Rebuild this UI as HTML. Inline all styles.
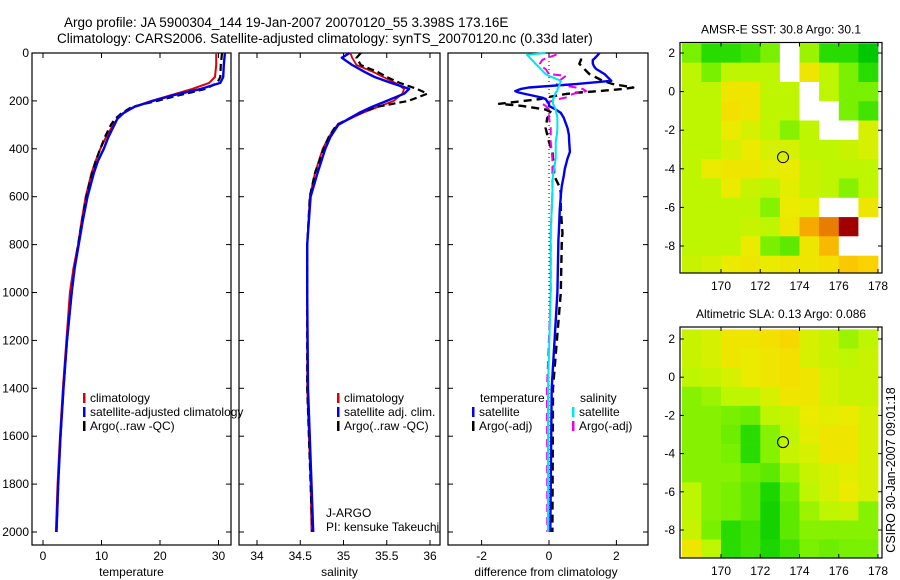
<!DOCTYPE html>
<html><head><meta charset="utf-8">
<style>
html,body{margin:0;padding:0;background:#fff;}
svg{display:block;font-family:"Liberation Sans",sans-serif;}
</style></head>
<body>
<svg id="fig" width="900" height="580" viewBox="0 0 900 580" xmlns="http://www.w3.org/2000/svg">
<text x="64" y="27" font-size="13.5">Argo profile: JA 5900304_144 19-Jan-2007 20070120_55 3.398S 173.16E</text>
<text x="57" y="43" font-size="13.5">Climatology: CARS2006. Satellite-adjusted climatology: synTS_20070120.nc (0.33d later)</text>
<g id="g"></g>
<text transform="translate(895,470) rotate(-90)" text-anchor="middle" font-size="12.5">CSIRO 30-Jan-2007 09:01:18</text>
</svg>
<script>
// ---- profile data ----
const depthTemp = [0,50,100,125,150,175,200,225,250,275,300,350,400,450,500,600,700,800,900,1000,1200,1400,1600,1800,2000];
const tempClim  = [29.6,29.6,29.4,28.4,25.5,22,18.5,15.5,13.8,12.7,12,10.8,9.8,9,8.3,7.3,6.6,6.0,5.2,4.6,4.0,3.4,2.9,2.5,2.2];
const tempSat   = [31.1,30.9,30.8,30.3,27,22.5,18.8,15.6,13.8,12.7,12.2,11.2,10.4,9.4,8.7,7.6,6.8,6.1,5.4,4.9,4.1,3.5,3.0,2.6,2.3];
const tempArgo  = [30.6,30.4,30.3,29.8,27.8,23.5,19.5,15.2,13.5,12.3,11.6,10.6,9.8,9.0,8.4,7.4,6.7,6.0,5.4,4.9,4.1,3.5,3.0,2.6,2.3];
const depthSal  = [0,20,50,80,100,125,150,170,200,225,250,300,350,400,500,600,800,1000,1400,1800,2000];
const salClim   = [35.08,35.1,35.15,35.35,35.46,35.6,35.7,35.68,35.58,35.4,35.22,34.93,34.83,34.76,34.67,34.61,34.58,34.58,34.58,34.62,34.63];
const salSat    = [35.07,34.98,35.1,35.25,35.36,35.55,35.76,35.7,35.5,35.33,35.18,34.94,34.85,34.79,34.7,34.62,34.58,34.58,34.59,34.63,34.65];
const salArgo   = [35.2,35.15,35.2,35.4,35.5,35.65,35.85,35.97,35.75,35.38,35.2,34.92,34.83,34.77,34.67,34.61,34.58,34.58,34.58,34.62,34.64];
const depthDiff = [0,8,23,29,45,59,67,88,95,116,130,144,150,159,165,171,186,192,212,221,236,250,271,313,342,371,413,441,484,512,555,582,653,752,781,1000,1400,2000];
const diffTsat  = [1.5,1.45,1.35,1.3,1.3,1.35,1.4,1.65,1.7,1.85,0.8,-0.6,-0.83,-1.0,-0.9,-0.7,-0.22,-0.1,0.0,0.0,0.2,0.35,0.44,0.55,0.59,0.6,0.62,0.55,0.47,0.44,0.38,0.36,0.32,0.29,0.28,0.25,0.08,0.04];
const diffTargo = [null,null,0.95,0.95,0.9,1.0,1.05,1.2,1.3,1.6,1.9,2.5,2.2,1.5,0.9,0.5,-0.1,-0.25,-1.48,-0.8,-0.1,0.1,-0.05,-0.1,-0.05,0.0,0.1,0.12,0.15,0.15,0.3,0.35,0.35,0.4,0.38,0.35,0.12,0.1];
const diffSsat  = [-0.1,-0.65,-0.55,-0.5,-0.4,-0.3,-0.25,-0.1,0.0,0.35,0.32,0.28,0.25,0.25,0.2,0.18,0.15,0.12,0.12,0.15,0.2,0.22,0.25,0.25,0.23,0.2,0.2,0.2,0.15,0.12,0.1,0.1,0.08,0.05,0.05,0.05,-0.03,-0.03];
const diffSargo = [0.2,0.2,-0.1,-0.2,-0.27,-0.2,-0.1,0.0,0.5,0.3,0.2,0.8,1.0,1.1,0.9,0.7,0.5,0.3,-0.2,-0.1,0.0,0.0,0.0,0.05,0.05,0.05,0.08,0.1,0.1,0.1,0.1,0.1,0.08,0.05,0.05,0.05,-0.06,-0.05];
// ---- axis tick labels ----
const depthTicks = [0,200,400,600,800,1000,1200,1400,1600,1800,2000];
const tempTicks = [0,10,20,30];
const salTicks = [34,34.5,35,35.5,36];
const diffTicks = [-2,0,2];
const lonTicks = [170,172,174,176,178];
const latTicks = [2,0,-2,-4,-6,-8];
// ---- map grids (1-degree cells, lon 168..177 W edge, lat rows from 2.5 down), null = no data ----
const sstGrid = [
 [0.4,0.25,0.25,0.3,0.4,null,0.45,0.25,0.25,0.15],
 [0.5,0.4,0.5,0.5,0.5,null,0.62,0.5,0.4,0.25],
 [0.5,0.5,0.62,0.62,0.5,0.5,null,0.5,0.4,0.4],
 [0.5,0.5,0.65,0.62,0.5,0.5,null,null,0.4,0.3],
 [0.5,0.5,0.6,0.55,0.5,0.42,0.5,null,null,0.55],
 [0.5,0.5,0.55,0.6,0.55,0.55,0.5,0.5,0.52,0.55],
 [0.5,0.6,0.62,0.62,0.58,0.6,0.52,0.5,0.5,0.5],
 [0.5,0.5,0.6,0.52,0.5,0.58,0.52,0.5,0.42,0.5],
 [0.5,0.5,0.5,0.5,0.42,0.6,0.58,null,null,0.62],
 [0.5,0.5,0.5,0.52,0.5,0.62,0.78,0.85,1.0,null],
 [0.5,0.5,0.5,0.6,0.4,0.35,0.62,0.75,null,null],
 [0.52,0.55,0.6,0.62,0.6,0.62,0.62,0.65,0.72,0.7]
];
const slaGrid = [
 [0.52,0.55,0.62,0.62,0.65,0.68,0.55,0.52,0.45,0.5],
 [0.52,0.55,0.62,0.6,0.62,0.65,0.55,0.52,0.5,0.52],
 [0.5,0.52,0.55,0.6,0.62,0.65,0.62,0.55,0.52,0.52],
 [0.42,0.45,0.5,0.5,0.55,0.62,0.62,0.55,0.52,0.52],
 [0.42,0.42,0.4,0.38,0.5,0.52,0.6,0.58,0.6,0.55],
 [0.42,0.42,0.38,0.25,0.42,0.5,0.58,0.62,0.62,0.55],
 [0.42,0.42,0.4,0.25,0.42,0.52,0.55,0.62,0.62,0.55],
 [0.42,0.42,0.42,0.38,0.35,0.45,0.52,0.55,0.58,0.55],
 [0.5,0.42,0.4,0.35,0.22,0.38,0.5,0.55,0.6,0.55],
 [0.5,0.42,0.4,0.35,0.2,0.35,0.45,0.5,0.52,0.42],
 [0.52,0.4,0.25,0.3,0.2,0.35,0.42,0.42,0.42,0.42],
 [0.62,0.5,0.25,0.3,0.22,0.3,0.4,0.38,0.4,0.4]
];

const NS="http://www.w3.org/2000/svg";
const root=document.getElementById('g');
function mk(tag,attrs,parent){const e=document.createElementNS(NS,tag);for(const k in attrs)e.setAttribute(k,attrs[k]);(parent||root).appendChild(e);return e;}
function txt(s,x,y,size,anchor,parent){const t=mk('text',{x:x,y:y,'font-size':size,'text-anchor':anchor||'start'},parent);t.textContent=s;return t;}

const top0=53, bot0=545;
function yDepth(d){return top0+d*0.2395;}
function linScale(v0,p0,v1,p1){return v=>p0+(v-v0)*(p1-p0)/(v1-v0);}
const panels=[
 {name:'temperature',l:32,r:231,x:linScale(0,43,30,218.5),ticks:tempTicks,title:'temperature'},
 {name:'salinity',l:239,r:440,x:linScale(34,257,36,430),ticks:salTicks,title:'salinity'},
 {name:'difference',l:448,r:648,x:linScale(0,549,2,616.4),ticks:diffTicks,title:'difference from climatology'}
];
panels.forEach((p,i)=>{
  const g=mk('g',{});
  
  
  const f=mk('rect',{x:p.l,y:top0,width:p.r-p.l,height:bot0-top0,fill:'none',stroke:'#000','stroke-width':1.2},g);
  
  
  p.ticks.forEach(t=>{
    const X=p.x(t);
    mk('line',{x1:X,x2:X,y1:bot0,y2:bot0-5,stroke:'#000'},g);
    mk('line',{x1:X,x2:X,y1:top0,y2:top0+5,stroke:'#000'},g);
    const lb=txt(String(t),X,560,12,'middle',g);
    
    
  });
  depthTicks.forEach(d=>{
    const Y=yDepth(d);
    mk('line',{x1:p.l,x2:p.l+5,y1:Y,y2:Y,stroke:'#000'},g);
    mk('line',{x1:p.r,x2:p.r-5,y1:Y,y2:Y,stroke:'#000'},g);
    if(i===0){const lb=txt(String(d),p.l-3,Y+4,12,'end',g);
      
      }
  });
  const at=txt(p.title,(p.l+p.r)/2-(i==2?2:0),576,12,'middle',g);
  
  
  p.g=g;
});
function line(p,vals,depths,color,w,dash,name){
  let d='',pen=false;
  vals.forEach((v,k)=>{ if(v===null){pen=false;return;} d+=(pen?'L':'M')+p.x(v).toFixed(1)+','+yDepth(depths[k]).toFixed(1); pen=true;});
  const e=mk('path',{d:d,fill:'none',stroke:color,'stroke-width':w,'stroke-linejoin':'round'},p.g);
  if(dash)e.setAttribute('stroke-dasharray',dash);
  
  
}
const P0=panels[0],P1=panels[1],P2=panels[2];
line(P0,tempClim,depthTemp,'#e00000',2,null,'temp-climatology-line');
line(P0,tempArgo,depthTemp,'#000',2.2,'7,4','temp-argo-line');
line(P0,tempSat,depthTemp,'#0000ee',2.4,null,'temp-satellite-line');
line(P1,salClim,depthSal,'#e00000',1.8,null,'sal-climatology-line');
line(P1,salArgo,depthSal,'#000',2.2,'7,4','sal-argo-line');
line(P1,salSat,depthSal,'#0000ee',2.4,null,'sal-satellite-line');
const zl=mk('line',{x1:P2.x(0),x2:P2.x(0),y1:top0,y2:yDepth(2000),stroke:'#000','stroke-width':1,'stroke-dasharray':'1,3'},P2.g);


line(P2,diffTargo,depthDiff,'#000',2.4,'8,5','diff-temp-argo-line');
line(P2,diffSargo,depthDiff,'#ee00ee',2,'8,5','diff-sal-argo-line');
line(P2,diffTsat,depthDiff,'#0000ee',2.4,null,'diff-temp-satellite-line');
line(P2,diffSsat,depthDiff,'#00e5ee',2,null,'diff-sal-satellite-line');

// legends
function legEntry(g,x,y,color,label,name){
  const m=mk('rect',{x:x,y:y-9,width:2.5,height:10,fill:color},g);
  
  
  const t=txt(label,x+7,y,12,'start',g);
  
  
}
const lg1=mk('g',{});


legEntry(lg1,83,402,'#e00000','climatology','legend-climatology');
legEntry(lg1,83,416,'#0000ee','satellite-adjusted climatology','legend-satellite');
legEntry(lg1,83,430,'#000','Argo(..raw -QC)','legend-argo');
const lg2=mk('g',{});


legEntry(lg2,337,402,'#e00000','climatology','legend-climatology');
legEntry(lg2,337,416,'#0000ee','satellite adj. clim.','legend-satellite');
legEntry(lg2,337,430,'#000','Argo(..raw -QC)','legend-argo');
const lg3=mk('g',{});


txt('temperature',480,402,12,'start',lg3);
txt('salinity',580,402,12,'start',lg3);
legEntry(lg3,472,416,'#0000ee','satellite','legend-temp-satellite');
legEntry(lg3,472,430,'#000','Argo(-adj)','legend-temp-argo');
legEntry(lg3,572,416,'#00e5ee','satellite','legend-sal-satellite');
legEntry(lg3,572,430,'#ee00ee','Argo(-adj)','legend-sal-argo');
const pi=mk('g',{});


txt('J-ARGO',326,517,12,'start',pi);
txt('PI: kensuke Takeuchi',326,531,12,'start',pi);

// maps
const stops=[[0.15,[0,200,0]],[0.25,[40,220,0]],[0.4,[120,240,0]],[0.5,[190,245,0]],[0.6,[235,235,0]],[0.7,[250,210,0]],[0.8,[245,160,0]],[0.9,[220,90,0]],[1.0,[160,0,0]]];
function colorOf(v){
  if(v<=stops[0][0])return 'rgb('+stops[0][1]+')';
  for(let i=1;i<stops.length;i++){ if(v<=stops[i][0]){const a=stops[i-1],b=stops[i],t=(v-a[0])/(b[0]-a[0]);
    return 'rgb('+a[1].map((c,k)=>Math.round(c+(b[1][k]-c)*t)).join(',')+')';}}
  return 'rgb(160,0,0)';
}
function drawMap(cfg){
  const g=mk('g',{});
  
  
  const X=linScale(170,cfg.x170,178,cfg.x178), Y=linScale(2,cfg.y2,-8,cfg.ym8);
  const L=680,R=882;
  const cid='clip-'+cfg.name;
  const cp=mk('clipPath',{id:cid},g);
  mk('rect',{x:L,y:cfg.top,width:R-L,height:cfg.bot-cfg.top},cp);
  const cells=mk('g',{'clip-path':'url(#'+cid+')'},g);
  cfg.grid.forEach((row,r)=>row.forEach((v,c)=>{
    const lon0=168+c, lat0=2.5-r;
    const x0=X(lon0),x1=X(lon0+1.02),y0=Y(lat0),y1=Y(lat0-1.02);
    const e=mk('rect',{x:x0.toFixed(1),y:y0.toFixed(1),width:(x1-x0).toFixed(1),height:(y1-y0).toFixed(1),fill:v===null?'#fff':colorOf(v)},cells);
    
    
  }));
  const c=mk('circle',{cx:X(173.16),cy:Y(-3.398),r:5.5,fill:'none',stroke:'#000','stroke-width':1},g);
  
  
  const fr=mk('rect',{x:L,y:cfg.top,width:R-L,height:cfg.bot-cfg.top,fill:'none',stroke:'#000','stroke-width':1.2},g);
  
  
  lonTicks.forEach(t=>{const x=X(t);
    mk('line',{x1:x,x2:x,y1:cfg.bot,y2:cfg.bot-4,stroke:'#000'},g);
    mk('line',{x1:x,x2:x,y1:cfg.top,y2:cfg.top+4,stroke:'#000'},g);
    const lb=txt(String(t),x,cfg.bot+17,12,'middle',g);
    
    });
  latTicks.forEach(t=>{const y=Y(t);
    mk('line',{x1:L,x2:L+4,y1:y,y2:y,stroke:'#000'},g);
    mk('line',{x1:R,x2:R-4,y1:y,y2:y,stroke:'#000'},g);
    const lb=txt(String(t),L-5,y+4,12,'end',g);
    
    });
  const tt=txt(cfg.title,781,cfg.top-9,12,'middle',g);
  
  
}
drawMap({name:'sst-map',grid:sstGrid,top:42.5,bot:273,x170:721,x178:878,y2:53,ym8:246,title:'AMSR-E SST: 30.8 Argo: 30.1'});
drawMap({name:'sla-map',grid:slaGrid,top:327,bot:558,x170:721,x178:878,y2:339,ym8:530,title:'Altimetric SLA: 0.13 Argo: 0.086'});
</script>
</body></html>
